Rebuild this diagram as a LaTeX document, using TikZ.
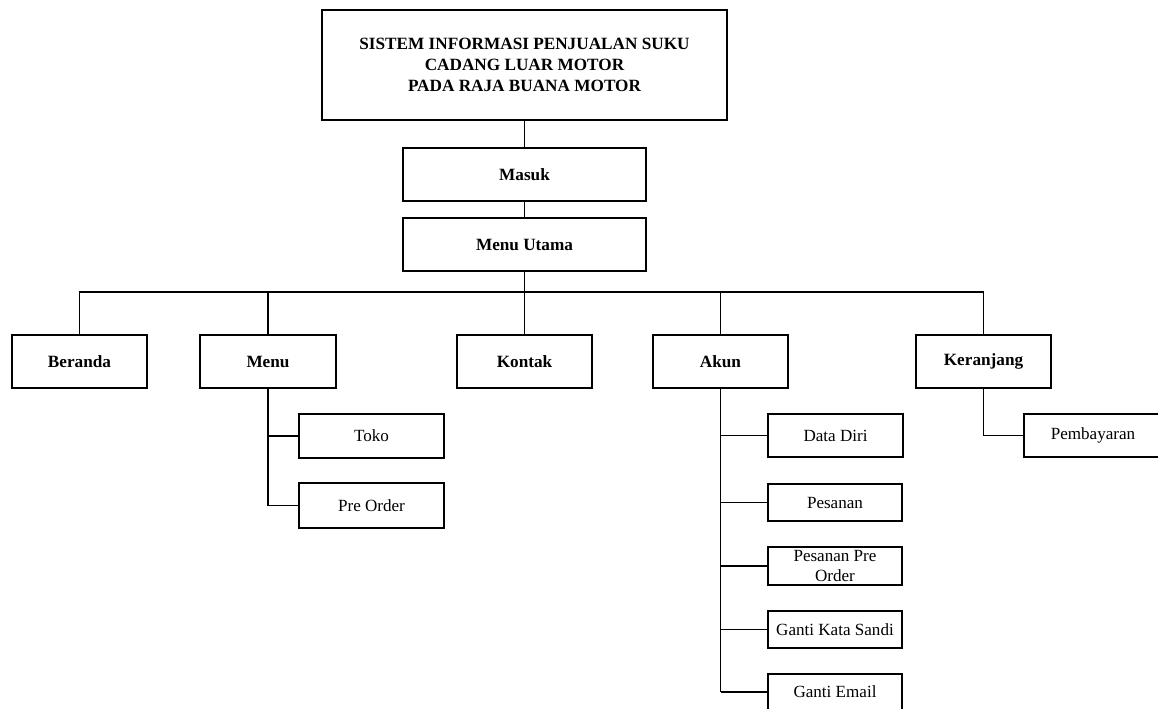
\documentclass[tikz,border=0pt]{standalone}
\usepackage{fontspec}
\setmainfont{Liberation Serif}
\begin{document}
\begin{tikzpicture}[x=0.75pt,y=-0.75pt,
  box/.style={draw, line width=0.8pt, rectangle, inner sep=1pt, align=center,
    font=\fontsize{12.8}{14.3}\selectfont},
  bbox/.style={box, font=\fontsize{12.9}{15.5}\selectfont\bfseries},
  conn/.style={line width=0.8pt},
  thick conn/.style={line width=1.3pt}]
\clip (0,0) rectangle (1158,708);
\fill[white] (0,0) rectangle (1158,708);
% top chain
\node[bbox, minimum width=405*0.75pt, minimum height=110*0.75pt] (title) at (524.5,65)
  {SISTEM INFORMASI PENJUALAN SUKU\\CADANG LUAR MOTOR\\PADA RAJA BUANA MOTOR};
\node[bbox, minimum width=243*0.75pt, minimum height=53*0.75pt] (masuk) at (524.5,174.5) {Masuk};
\node[bbox, minimum width=243*0.75pt, minimum height=53*0.75pt] (mu) at (524.5,244.5) {Menu Utama};
% level 2
\node[bbox, minimum width=135*0.75pt, minimum height=53*0.75pt] (beranda) at (79.5,361.5) {Beranda};
\node[bbox, minimum width=136*0.75pt, minimum height=53*0.75pt] (menu) at (268,361.5) {Menu};
\node[bbox, minimum width=135*0.75pt, minimum height=53*0.75pt] (kontak) at (524.5,361.5) {Kontak};
\node[bbox, minimum width=135*0.75pt, minimum height=53*0.75pt] (akun) at (720.5,361.5) {Akun};
\node[bbox, minimum width=135*0.75pt, minimum height=53*0.75pt] (keranjang) at (983.5,361.5) {Keranjang};
\coordinate (bar) at (524.5,292);
% level 3
\node[box, minimum width=145*0.75pt, minimum height=44*0.75pt] (toko) at (371.5,436) {Toko};
\node[box, minimum width=145*0.75pt, minimum height=45*0.75pt] (preorder) at (371.5,505.5) {Pre Order};
\node[box, minimum width=135*0.75pt, minimum height=43*0.75pt] (datadiri) at (835.5,435.5) {Data Diri};
\node[box, minimum width=134*0.75pt, minimum height=37*0.75pt] (pesanan) at (835,502.5) {Pesanan};
\node[box, minimum width=134*0.75pt, minimum height=38*0.75pt, inner sep=0pt] (pesananpo) at (835,566) {Pesanan Pre\\Order};
\node[box, minimum width=134*0.75pt, minimum height=37*0.75pt] (sandi) at (835,629.5) {Ganti Kata Sandi};
\node[box, minimum width=134*0.75pt, minimum height=36*0.75pt] (email) at (835,692) {Ganti Email};
\node[box, minimum width=138*0.75pt, minimum height=43*0.75pt] (bayar) at (1093,435.5) {Pembayaran};
% connectors
\draw[conn] (title.south) -- (masuk.north);
\draw[conn] (masuk.south) -- (mu.north);
\draw[thick conn] (mu.south) -- (mu.south |- bar);
\draw[conn] (bar) -- (kontak.north);
\draw[conn] (beranda.north) |- (bar) -| (keranjang.north);
\draw[conn] (menu.north) -- (menu.north |- bar);
\draw[conn] (akun.north) -- (akun.north |- bar);
\draw[thick conn] (menu.south) -- (menu.south |- preorder.west);
\draw[conn] (menu.south |- preorder.west) -- (preorder.west);
\draw[conn] (menu.south |- toko.west) -- (toko.west);
\draw[thick conn] (akun.south) -- (akun.south |- email.west);
\draw[conn] (akun.south |- email.west) -- (email.west);
\draw[conn] (akun.south |- datadiri.west) -- (datadiri.west);
\draw[conn] (akun.south |- pesanan.west) -- (pesanan.west);
\draw[conn] (akun.south |- pesananpo.west) -- (pesananpo.west);
\draw[conn] (akun.south |- sandi.west) -- (sandi.west);
\draw[conn] (keranjang.south) |- (bayar.west);
\end{tikzpicture}
\end{document}
